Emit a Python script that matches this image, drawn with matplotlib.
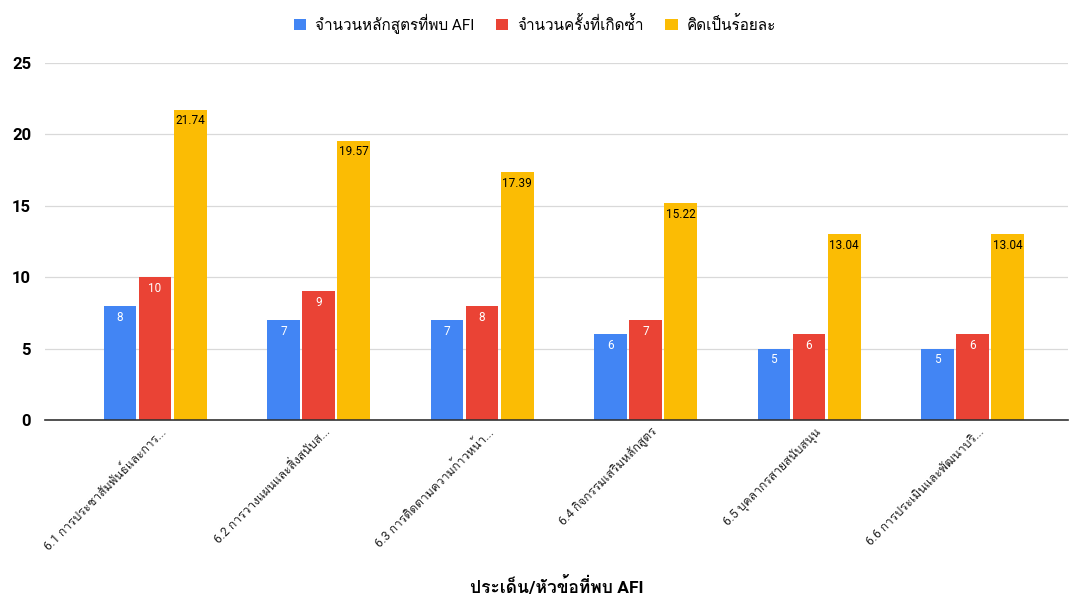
import numpy as np
import matplotlib
matplotlib.use('Agg')
import matplotlib.pyplot as plt
from matplotlib import font_manager
from fontTools.ttLib import TTFont

# data
categories = ['6.1 การประชาสัมพันธ์และการ...', '6.2 การวางแผนและสิ่งสนับส...',
              '6.3 การติดตามความก้าวหน้า...', '6.4 กิจกรรมเสริมหลักสูตร',
              '6.5 บุคลากรสายสนับสนุน', '6.6 การประเมินและพัฒนาบริ...']
series_names = ['จำนวนหลักสูตรที่พบ AFI', 'จำนวนครั้งที่เกิดซ้ำ', 'คิดเป็นร้อยละ']
courses = [8, 7, 7, 6, 5, 5]
repeats = [10, 9, 8, 7, 6, 6]
percent = [21.74, 19.57, 17.39, 15.22, 13.04, 13.04]
y_ticks = [0, 5, 10, 15, 20, 25]
x_title = 'ประเด็น/หัวข้อที่พบ AFI'

#look for an installed font that has Thai glyphs
def find_thai_font():
    for f in font_manager.fontManager.ttflist:
        try:
            tt = TTFont(f.fname, fontNumber=0, lazy=True)
            cmap = tt.getBestCmap()
            if cmap and 0x0E01 in cmap and 0x0E33 in cmap:
                return f.name
        except Exception:
            continue
    return None

thai = find_thai_font()
fams = ['Roboto', 'DejaVu Sans']
if thai:
    fams = ['Roboto', thai, 'DejaVu Sans']
plt.rcParams['font.family'] = fams

colors = ['#4285F4', '#EA4335', '#FBBC04']

fig = plt.figure(figsize=(10.7, 6.01), dpi=100)
ax = fig.add_axes([45/1070, 1-420/601, 1023/1070, 357/601])

x = np.arange(len(categories))
w = 0.2
off = 0.215
values = [courses, repeats, percent]
for i, vals in enumerate(values):
    bars = ax.bar(x + (i-1)*off, vals, w, color=colors[i], label=series_names[i], zorder=3)
    for b, v in zip(bars, vals):
        txt = str(v)
        col = 'black' if i == 2 else 'white'
        ax.annotate(txt, (b.get_x()+b.get_width()/2, v), xytext=(0, -3.5), textcoords='offset points',
                    ha='center', va='top', fontsize=8.5, color=col, zorder=4)

ax.set_xlim(-0.673, 5.584)
ax.set_ylim(0, 25)
ax.set_yticks(y_ticks)
ax.set_yticklabels([str(t) for t in y_ticks], fontweight='bold', fontsize=12)
ax.yaxis.grid(True, color='#d9d9d9', linewidth=0.9, zorder=0)
ax.tick_params(axis='y', length=0, pad=10)
ax.tick_params(axis='x', length=0, pad=4)
for s in ['top', 'right', 'left']:
    ax.spines[s].set_visible(False)
ax.spines['bottom'].set_color('#333333')
ax.spines['bottom'].set_linewidth(1.2)
ax.spines['bottom'].set_zorder(5)

ax.set_xticks(x + 0.03)
ax.set_xticklabels(categories, rotation=45, ha='right', rotation_mode='anchor', fontsize=8.7, color='#222222')

ax.set_xlabel(x_title, fontweight='bold', fontsize=12.5)
ax.xaxis.set_label_coords(0.5, -(576-420)/357)

leg = fig.legend(loc='upper center', bbox_to_anchor=(0.5, 1.0), ncol=3, frameon=False, fontsize=11,
                 handlelength=0.8, handleheight=0.8, handletextpad=0.6, columnspacing=1.4)

fig.savefig('out.png', dpi=100)
